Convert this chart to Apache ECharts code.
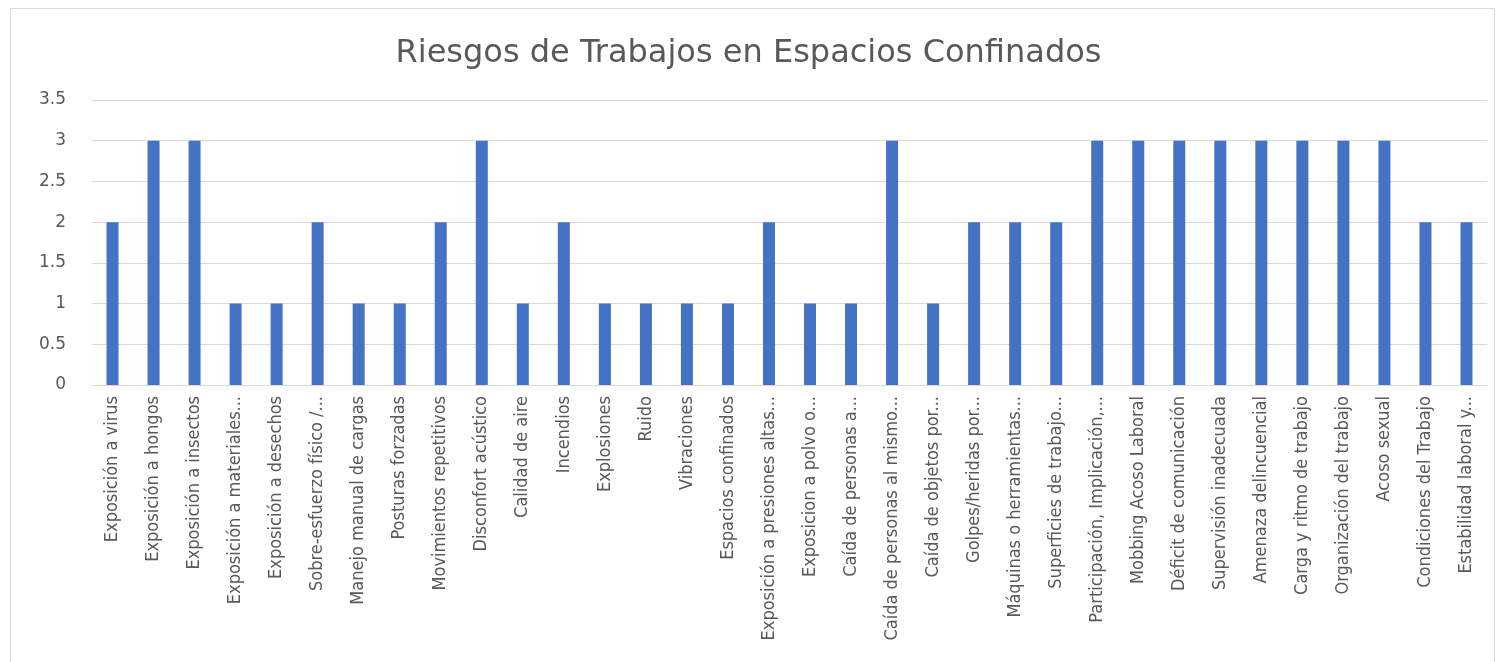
<!DOCTYPE html>
<html><head><meta charset="utf-8">
<script src="https://cdn.jsdelivr.net/npm/echarts@6/dist/echarts.min.js"></script>
<style>
html,body{margin:0;padding:0;background:#fff;}
#frame{position:absolute;left:10px;top:8px;width:1485px;height:660px;border:1px solid #d9d9d9;box-sizing:border-box;}
#c{position:absolute;left:0;top:0;width:1497px;height:662px;}
</style></head><body>
<div id="frame"></div>
<div id="c"></div>
<script>
const categories = [
"Exposición a virus","Exposición a hongos","Exposición a insectos","Exposición a materiales...",
"Exposición a desechos","Sobre-esfuerzo físico /...","Manejo manual de cargas","Posturas forzadas",
"Movimientos repetitivos","Disconfort acústico","Calidad de aire","Incendios","Explosiones","Ruido",
"Vibraciones","Espacios confinados","Exposición a presiones altas...","Exposicion a polvo o...",
"Caída de personas a...","Caída de personas al mismo...","Caída de objetos por...","Golpes/heridas por...",
"Máquinas o herramientas...","Superficies de trabajo...","Participación, Implicación,...","Mobbing Acoso Laboral",
"Déficit de comunicación","Supervisión inadecuada","Amenaza delincuencial","Carga y ritmo de trabajo",
"Organización del trabajo","Acoso sexual","Condiciones del Trabajo","Estabilidad laboral y..."
];
const values = [2,3,3,1,1,2,1,1,2,3,1,2,1,1,1,1,2,1,1,3,1,2,2,2,3,3,3,3,3,3,3,3,2,2];
const yTicks = [0,0.5,1,1.5,2,2.5,3,3.5];

const chart = echarts.init(document.getElementById('c'));
chart.setOption({
  animation:false,
  backgroundColor:'transparent',
  title:{text:'Riesgos de Trabajos en Espacios Confinados',left:'center',top:33,
    textStyle:{fontFamily:'DejaVu Sans',fontSize:32,fontWeight:'normal',color:'#595959'}},
  grid:{left:92,right:10,top:100,bottom:277,containLabel:false},
  xAxis:{type:'category',data:categories,
    axisLine:{lineStyle:{color:'#d9d9d9',width:1}},
    axisTick:{show:false},
    axisLabel:{rotate:90,interval:0,fontFamily:'DejaVu Sans Condensed',fontSize:18,color:'#595959',margin:11}},
  yAxis:{type:'value',min:0,max:3.5,interval:0.5,
    axisLine:{show:false},axisTick:{show:false},
    splitLine:{lineStyle:{color:'#d9d9d9',width:1}},
    axisLabel:{fontFamily:'DejaVu Sans',fontSize:17,color:'#595959',margin:26,
      formatter:v=>String(v)}},
  series:[{type:'bar',data:values,barWidth:12,itemStyle:{color:'#4472C4'}}]
});
</script>
</body></html>
